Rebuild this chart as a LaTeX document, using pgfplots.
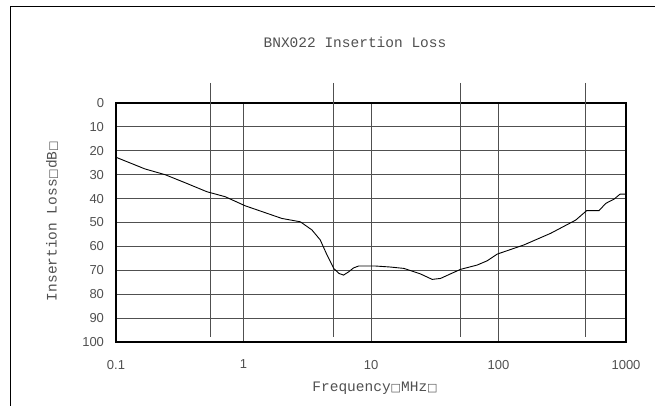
\documentclass[border=0pt]{standalone}
\usepackage{pgfplots}
\pgfplotsset{compat=1.18}
\usepackage{fontspec}
\setmainfont{Liberation Mono}
\newfontfamily\labfont{Liberation Mono}
\newfontfamily\tickfont{Liberation Sans}
\newfontfamily\symfont{DejaVu Sans}
\definecolor{txt}{HTML}{505050}
\definecolor{grd}{HTML}{505050}
\newcommand{\bx}{{\symfont\fontsize{11bp}{11bp}\selectfont □}}
\begin{document}
\begin{tikzpicture}
\useasboundingbox (0bp,0bp) rectangle (655bp,-406bp);
\draw[line width=1.3bp] (10.5bp,-420bp) -- (10.5bp,-6.5bp) -- (670bp,-6.5bp);
\begin{axis}[
  at={(116bp,-342bp)}, anchor=south west,
  width=510bp, height=239bp, scale only axis,
  xmode=log, xmin=0.1, xmax=1000,
  ymin=0, ymax=100, y dir=reverse,
  xtick={0.1,1,10,100,1000},
  xticklabels={0.1,1,10,100,1000},
  ytick={0,10,...,100},
  grid=major,
  major grid style={draw=grd, line width=0.9bp},
  tick style={draw=none},
  axis line style={line width=1.3bp, black},
  ticklabel style={font=\tickfont\fontsize{13bp}{13.5bp}\selectfont, text=txt},
  /pgf/number format/assume math mode=true,
  xticklabel style={yshift=-14.5bp},
  yticklabel style={xshift=-8.5bp},
  clip=false,
]
\addplot[draw=grd, line width=0.9bp] coordinates {(0.55,-8.4) (0.55,98)};
\addplot[draw=grd, line width=0.9bp] coordinates {(5.1,-8.4) (5.1,98)};
\addplot[draw=grd, line width=0.9bp] coordinates {(50,-8.4) (50,98)};
\addplot[draw=grd, line width=0.9bp] coordinates {(485,-8.4) (485,98)};
\addplot[black, line width=0.9bp] coordinates {
(0.1,22.7) (0.169,27.6) (0.243,30) (0.35,33.4) (0.515,37.1) (0.718,39.2)
(1.03,43) (2.0,48.3) (2.79,49.7) (3.44,53.1) (4.0,57.3) (4.52,63.6)
(5.1,69.2) (5.6,71.3) (6.1,72.0) (6.69,70.6) (7.3,69.0) (8.0,68.2) (10.8,68.2)
(14,68.6) (18.1,69.2) (24.4,71.5) (30.2,73.8) (35.1,73.4) (42,71.5)
(50.4,69.6) (68,67.8) (81.7,66) (97.9,63.2) (158,59.4) (257,54.5)
(403,49) (492,45) (615,45) (694,42) (807,40.2) (900,38.1) (1000,38.1)
};
\end{axis}
\node[text=txt, font=\labfont\fontsize{14.5bp}{15bp}\selectfont] at (355bp,-42bp) {BNX022 Insertion Loss};
\node[text=txt, font=\labfont\fontsize{14.5bp}{15bp}\selectfont] at (375bp,-388bp) {Frequency\bx MHz\bx};
\node[text=txt, rotate=90, font=\labfont\fontsize{14.5bp}{15bp}\selectfont] at (52bp,-221bp) {Insertion Loss\bx dB\bx};
\end{tikzpicture}
\end{document}
